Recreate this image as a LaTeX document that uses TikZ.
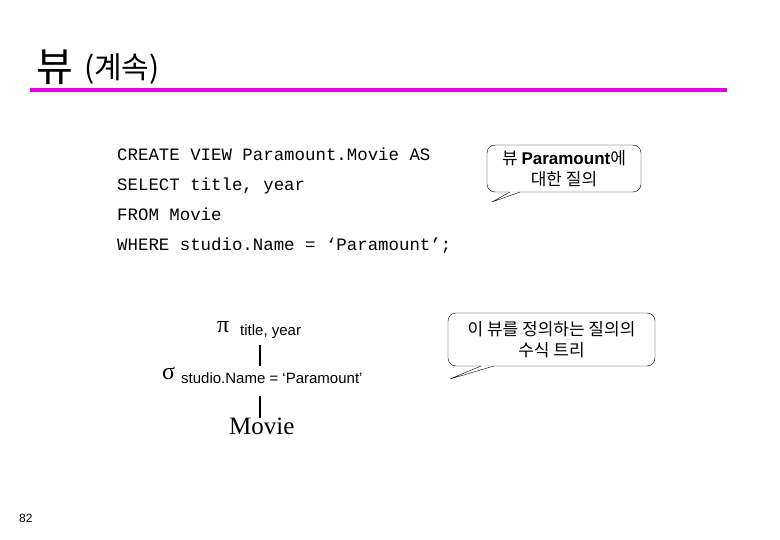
\documentclass[tikz,border=0pt]{standalone}
\usepackage{fontspec}
\setmainfont{Liberation Serif}
\newfontfamily\kr{Noto Sans CJK KR}
\newfontfamily\arial{Liberation Sans}
\newfontfamily\cour{Liberation Mono}
\begin{document}
\begin{tikzpicture}[x=1pt,y=-1pt,
  code/.style={anchor=base west,inner sep=0,font=\cour\fontsize{17.4}{17}\selectfont},
  bubble/.style={draw,rounded corners=8pt,fill=white,align=center,inner sep=0,font=\kr\fontsize{17}{21}\selectfont},
  lab/.style={anchor=base west,inner sep=0}]
\useasboundingbox (0,0) rectangle (780,540);
\node[lab,font=\kr\fontsize{40}{40}\selectfont] (t1) at (36,82) {뷰};
\node[lab,font=\kr\fontsize{30}{30}\selectfont] (t2) at (84,79) {(계속)};
\draw[line width=4.5pt,color={rgb,255:red,230;green,0;blue,230}] (30,90) -- (727,90);
\node[code] (c1) at (117,161) {CREATE VIEW Paramount.Movie AS};
\node[code] (c2) at (117,191) {SELECT title, year};
\node[code] (c3) at (117,221) {FROM Movie};
\node[code] (c4) at (117,251) {WHERE studio.Name = ‘Paramount’;};
% callout 1
\node[bubble,minimum width=154pt,minimum height=47pt] (b1) at (564,168.5) {뷰 {\arial\bfseries Paramount}에\\대한 질의};
\coordinate (p1) at (492,202);
\fill[white] (510,191.5) -- (p1) -- (520,191.5) -- cycle;
\draw (510,192) -- (p1) -- (520,192);
% callout 2
\node[bubble,minimum width=207pt,minimum height=53pt] (b2) at (551.5,339.5) {이 뷰를 정의하는 질의의\\수식 트리};
\coordinate (p2) at (450,379);
\fill[white] (481,365.5) -- (p2) -- (494,365.5) -- cycle;
\draw (481,366) -- (p2) -- (494,366);
% tree
\node[lab,font=\fontsize{24}{24}\selectfont] (pi) at (217,333) {π};
\node[lab,font=\arial\fontsize{15}{15}\selectfont] (pil) at (240,336) {title, year};
\node[lab,font=\fontsize{24}{24}\selectfont] (sg) at (162,380) {σ};
\node[lab,font=\arial\fontsize{15}{15}\selectfont] (sgl) at (181,384) {studio.Name = ‘Paramount’};
\node[lab,font=\fontsize{25}{25}\selectfont] (mv) at (229,435) {Movie};
\coordinate (a1) at (260,345); \coordinate (a2) at (260,366);
\coordinate (a3) at (260,396); \coordinate (a4) at (260,418);
\draw[line width=1.5pt] (a1) -- (a2);
\draw[line width=1.5pt] (a3) -- (a4);
\node[lab,font=\arial\fontsize{12}{12}\selectfont] (pg) at (19,522) {82};
\end{tikzpicture}
\end{document}
